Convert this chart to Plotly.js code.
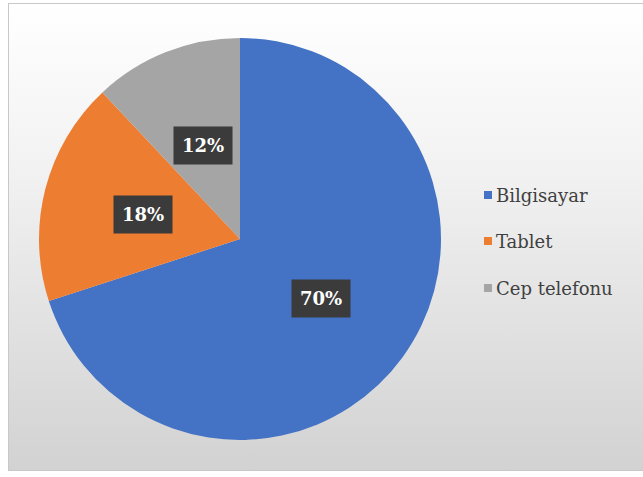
<!DOCTYPE html>
<html>
<head>
<meta charset="utf-8">
<script src="https://cdn.plot.ly/plotly-3.0.1.min.js"></script>
<style>
  html, body { margin: 0; padding: 0; background: #ffffff; }
  #frame {
    position: absolute; left: 8px; top: 3px; width: 640px; height: 468px;
    border: 1px solid #c8c8c8;
    background: linear-gradient(to bottom, #ffffff 0%, #f2f2f2 35%, #dcdcdc 80%, #d2d2d2 100%);
    box-sizing: border-box;
  }
  #chart { position: absolute; left: 0; top: 0; width: 643px; height: 477px; }
</style>
</head>
<body>
<div id="frame"></div>
<div id="chart"></div>
<script>
const categories = ["Bilgisayar", "Tablet", "Cep telefonu"];
const values = [70, 18, 12];
const colors = ["#4472C4", "#ED7D31", "#A5A5A5"];

const W = 643, H = 477;
const cx = 240, cy = 239, R = 201;
const SERIF = "DejaVu Serif";

const domain = {
  x: [(cx - R) / W, (cx + R) / W],
  y: [(H - cy - R) / H, (H - cy + R) / H]
};

const total = values.reduce((a, b) => a + b, 0);
const annotations = [];
const shapes = [];
let cum = 0;
values.forEach((v, i) => {
  const mid = (cum + v / 2) / total * 2 * Math.PI;
  cum += v;
  const px = cx + 0.5 * R * Math.sin(mid);
  const py = cy - 0.5 * R * Math.cos(mid);
  annotations.push({
    x: px / W, y: 1 - py / H, xref: 'paper', yref: 'paper',
    xanchor: 'center', yanchor: 'middle',
    text: '<b>' + Math.round(v / total * 100) + '%</b>',
    showarrow: false,
    font: { family: SERIF, size: 18, color: '#ffffff' },
    bgcolor: '#3b3b3b', borderpad: 8
  });
});

// legend drawn as squares + text annotations
const legendY = [195, 241, 288];
categories.forEach((c, i) => {
  const yc = 1 - legendY[i] / H;
  shapes.push({
    type: 'rect', xref: 'paper', yref: 'paper',
    x0: 484 / W, x1: 492 / W, y0: yc - 4 / H, y1: yc + 4 / H,
    fillcolor: colors[i], line: { width: 0 }
  });
  annotations.push({
    x: 494 / W, y: yc, xref: 'paper', yref: 'paper',
    xanchor: 'left', yanchor: 'middle', showarrow: false,
    text: c,
    font: { family: SERIF, size: 18, color: '#404040' }
  });
});

const data = [{
  type: 'pie',
  labels: categories,
  values: values,
  marker: { colors: colors, line: { width: 0 } },
  sort: false,
  direction: 'clockwise',
  rotation: 0,
  textinfo: 'none',
  hoverinfo: 'label+percent',
  domain: domain
}];

const layout = {
  width: W, height: H,
  margin: { l: 0, r: 0, t: 0, b: 0 },
  paper_bgcolor: 'rgba(0,0,0,0)',
  plot_bgcolor: 'rgba(0,0,0,0)',
  showlegend: false,
  font: { family: SERIF },
  shapes: shapes,
  annotations: annotations
};

Plotly.newPlot('chart', data, layout, { displayModeBar: false, staticPlot: true });
</script>
</body>
</html>
